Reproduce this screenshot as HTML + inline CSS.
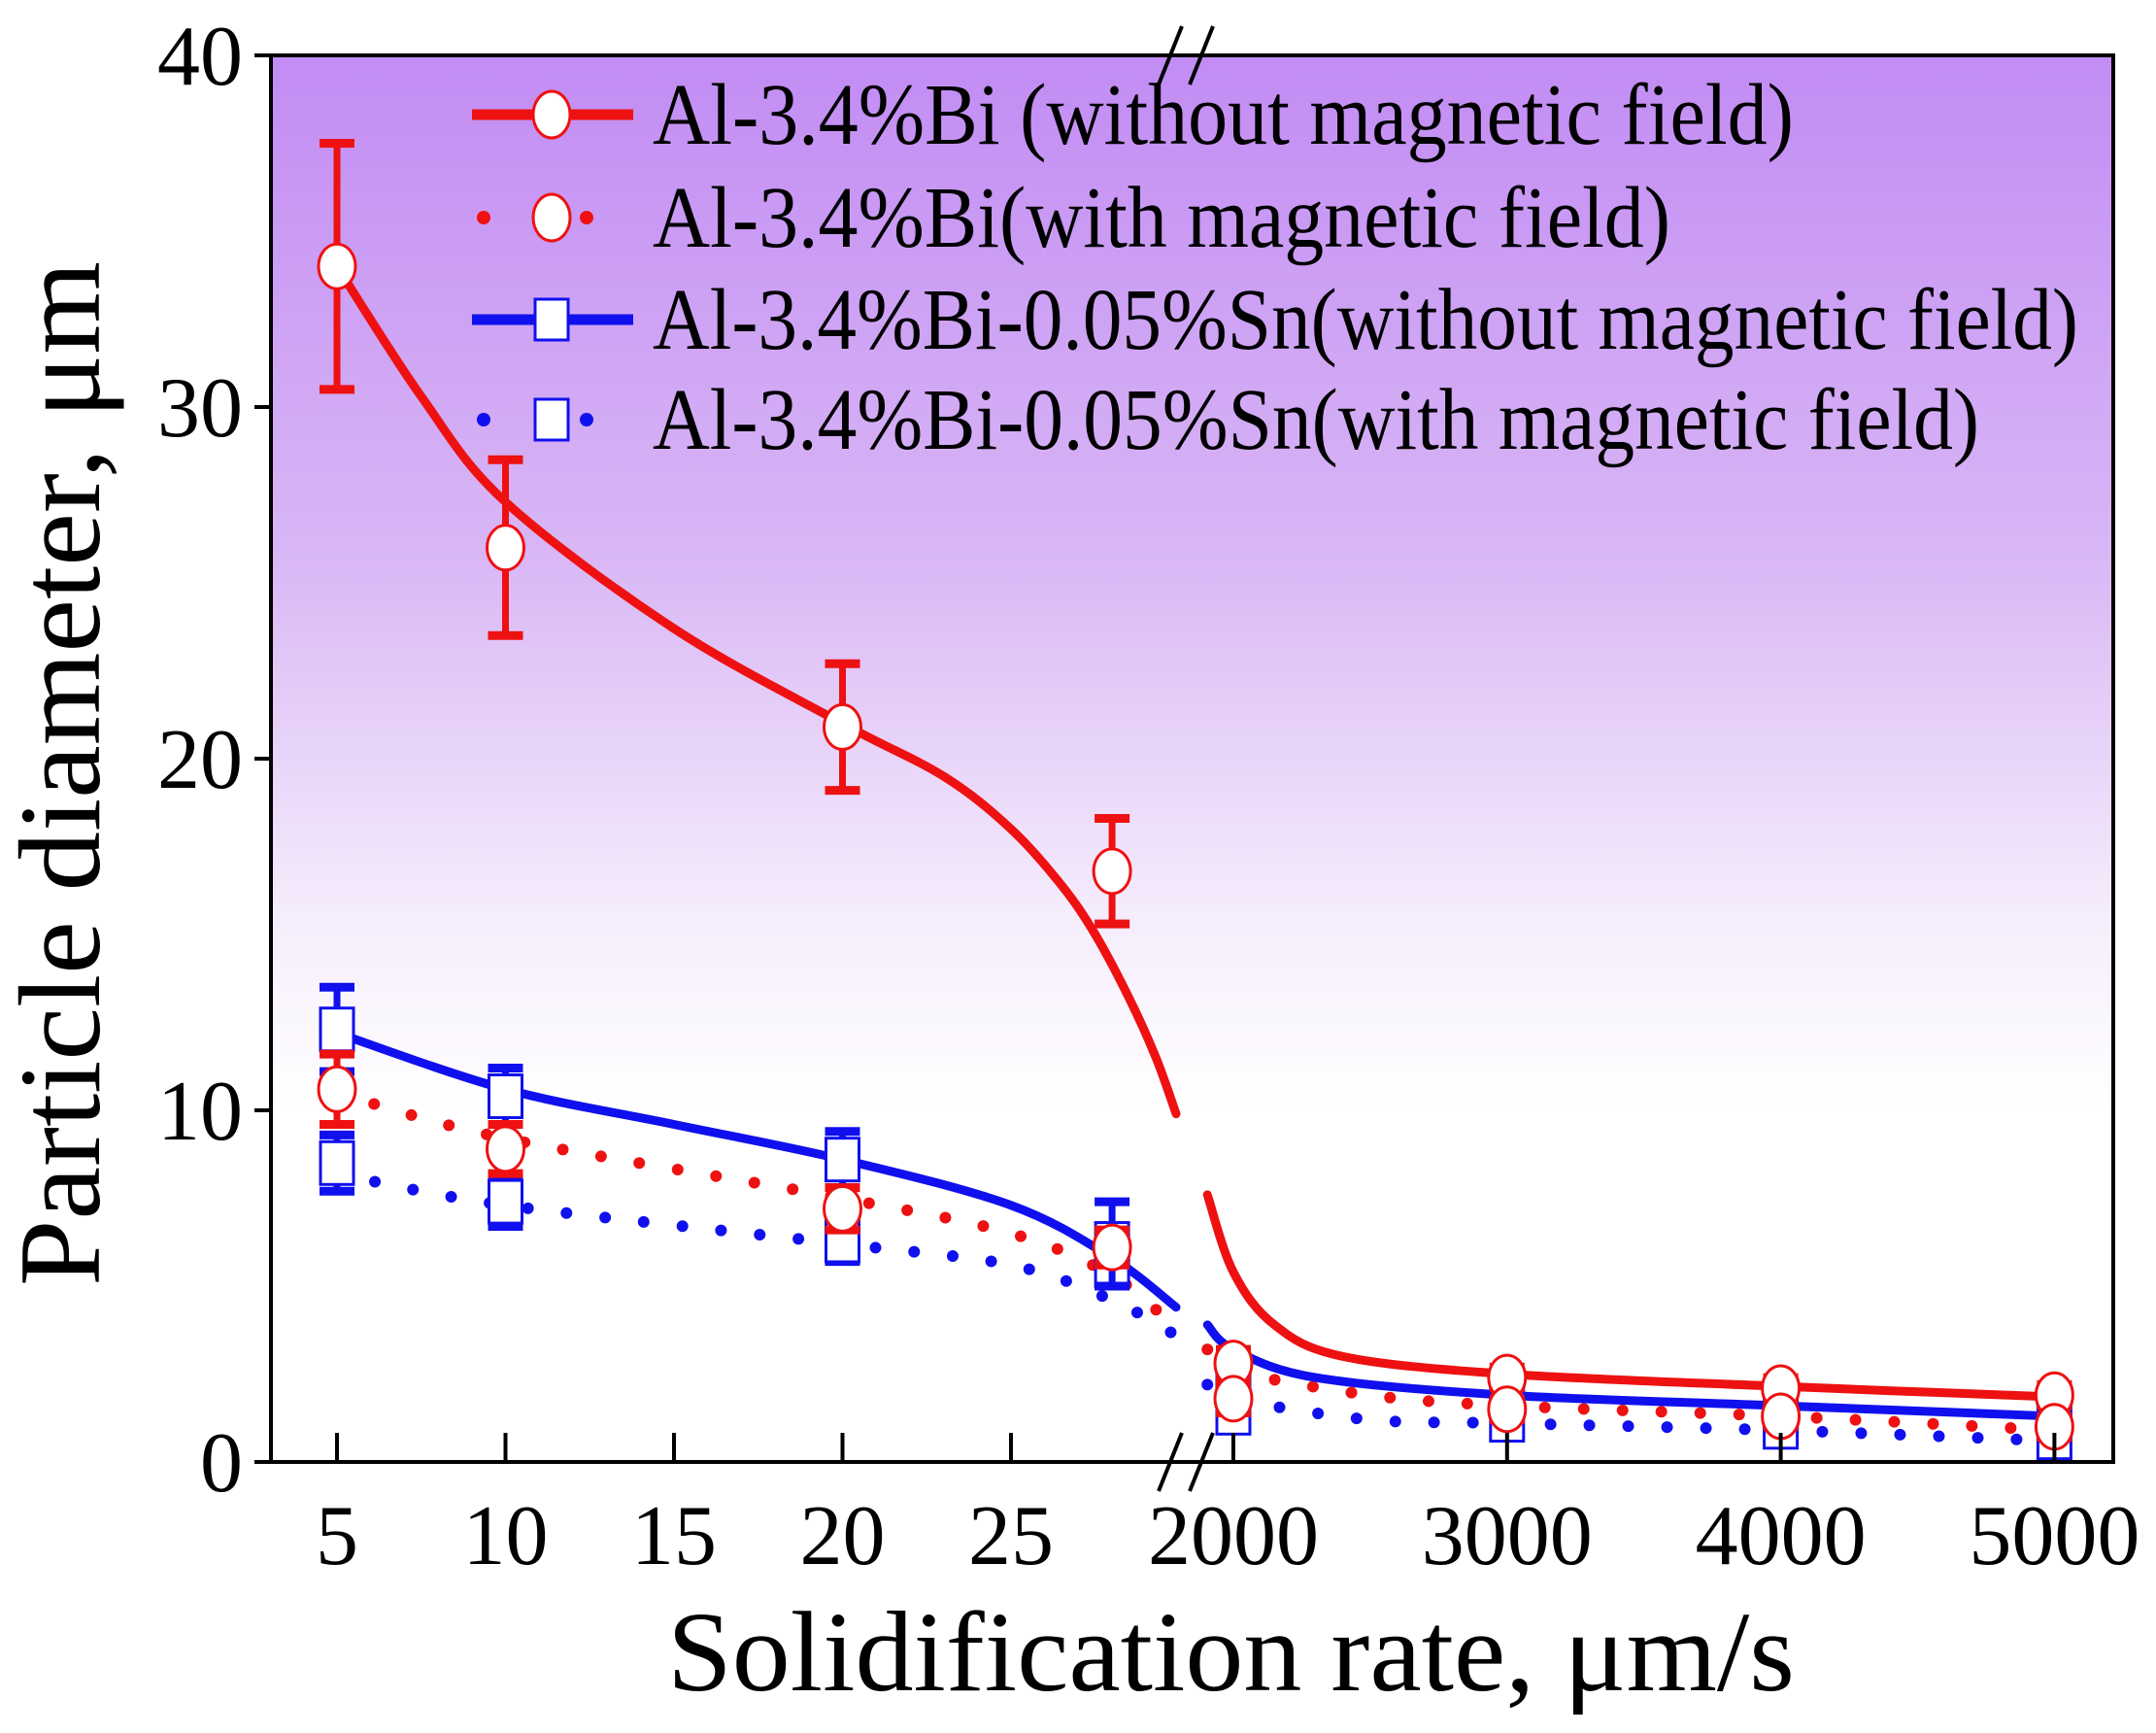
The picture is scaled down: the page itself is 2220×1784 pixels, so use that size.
<!DOCTYPE html>
<html><head><meta charset="utf-8"><style>
html,body{margin:0;padding:0;background:#fff;}
svg{display:block;font-family:"Liberation Serif",serif;}
</style></head><body>
<svg id="chart" width="2220" height="1784" viewBox="0 0 2220 1784" xmlns="http://www.w3.org/2000/svg">
<defs>
<linearGradient id="bg" x1="0" y1="0" x2="0" y2="1">
<stop offset="0" stop-color="#c28cf4"/>
<stop offset="0.35" stop-color="#d8b6f5"/>
<stop offset="0.62" stop-color="#f6eefc"/>
<stop offset="0.75" stop-color="#ffffff"/>
<stop offset="1" stop-color="#ffffff"/>
</linearGradient>
</defs>
<rect x="279" y="57" width="1897" height="1448" fill="url(#bg)"/>
<g id="marks"></g>
<rect x="279" y="57" width="1897" height="1448" fill="none" stroke="#000" stroke-width="4"/>
<g id="axes"></g>
<g id="legend" font-size="90"></g>
<text x="687" y="1740" font-size="118" textLength="1161" lengthAdjust="spacingAndGlyphs">Solidification rate,  μm/s</text>
<text transform="translate(102,1324) rotate(-90)" font-size="120" textLength="1055" lengthAdjust="spacingAndGlyphs">Particle diameter,  μm</text>
</svg>
<script>
// ---- data ----
const leftCats = [5, 10, 20, 28];
const rightCats = [2000, 3000, 4000, 5000];
const redSolidL = [34.0, 26.0, 20.9, 16.8];
const redSolidR = [2.8, 2.4, 2.1, 1.9];
const redSolidErrL = [3.5, 2.5, 1.8, 1.5];
const redDotL = [10.6, 8.9, 7.2, 6.1];
const redDotR = [1.8, 1.5, 1.3, 1.0];
const redDotErrL = [1.0, 0.7, 0.6, 0.5];
const blueSolidL = [12.3, 10.4, 8.6, 6.2];
const blueSolidR = [2.2, 1.9, 1.5, 1.3];
const blueSolidErrL = [1.2, 0.8, 0.8, 1.2];
const blueDotL = [8.5, 7.4, 6.3, 5.6];
const blueDotR = [1.4, 1.2, 1.0, 0.7];
const blueDotErrL = [0.8, 0.7, 0.6, 0.6];
const errR = [0.4, 0.3, 0.3, 0.3];
// fitted curves
const redFitLx = [5, 7.5, 10, 15, 20, 23, 25, 26.5, 27.5, 28.5, 29.3, 29.9];
const redFitLy = [34, 30.3, 27.3, 23.7, 21, 19.5, 18.0, 16.4, 15.0, 13.2, 11.5, 9.9];
const redFitRx = [1905, 2000, 2150, 2400, 3000, 4000, 5000];
const redFitRy = [7.6, 5.4, 3.9, 3.0, 2.5, 2.15, 1.85];
const blueFitLx = [5, 10, 15, 20, 25, 28, 29.9];
const blueFitLy = [12.2, 10.6, 9.6, 8.6, 7.3, 5.8, 4.4];
const blueFitRx = [1905, 2000, 2300, 3000, 4000, 5000];
const blueFitRy = [3.9, 3.2, 2.4, 1.9, 1.6, 1.3];
const redDotFitLx = [5, 10, 20, 25, 28, 29.9];
const redDotFitLy = [10.5, 9.2, 7.5, 6.5, 5.3, 3.8];
const redDotFitRx = [1905, 2000, 2500, 3000, 4000, 5000];
const redDotFitRy = [3.2, 2.6, 1.9, 1.6, 1.3, 0.9];
const blueDotFitLx = [5, 10, 20, 25, 28, 29.9];
const blueDotFitLy = [8.2, 7.3, 6.2, 5.6, 4.6, 3.6];
const blueDotFitRx = [1905, 2000, 2500, 3000, 4000, 5000];
const blueDotFitRy = [2.2, 1.8, 1.2, 1.1, 0.9, 0.6];
const yTicks = [0, 10, 20, 30, 40];
const xTicksL = [5, 10, 15, 20, 25];
const xTicksR = [2000, 3000, 4000, 5000];
const legendLabels = ["Al-3.4%Bi (without magnetic field)", "Al-3.4%Bi(with magnetic field)", "Al-3.4%Bi-0.05%Sn(without magnetic field)", "Al-3.4%Bi-0.05%Sn(with magnetic field)"];

// ---- axes ----
const xL = v => 347 + (v - 5) * 34.7;
const xR = v => 1270 + (v - 2000) * 0.2818;
const y = v => 1505 - v * 36.2;
const NS = "http://www.w3.org/2000/svg";
function mk(tag, attrs, parent) {
  const e = document.createElementNS(NS, tag);
  for (const k in attrs) e.setAttribute(k, attrs[k]);
  parent.appendChild(e);
  return e;
}
const marks = document.getElementById('marks');
const axes = document.getElementById('axes');

function smooth(pts) {
  let d = `M${pts[0][0]},${pts[0][1]}`;
  for (let i = 0; i < pts.length - 1; i++) {
    const p0 = pts[i - 1] || pts[i], p1 = pts[i], p2 = pts[i + 1], p3 = pts[i + 2] || p2;
    const c1 = [p1[0] + (p2[0] - p0[0]) / 6, p1[1] + (p2[1] - p0[1]) / 6];
    const c2 = [p2[0] - (p3[0] - p1[0]) / 6, p2[1] - (p3[1] - p1[1]) / 6];
    d += ` C${c1[0]},${c1[1]} ${c2[0]},${c2[1]} ${p2[0]},${p2[1]}`;
  }
  return d;
}
function curve(xs, ys, xf, color, dotted, name) {
  const p = mk('path', {d: smooth(xs.map((v, i) => [xf(v), y(ys[i])])), fill: 'none', stroke: color,
    'stroke-width': dotted ? 12 : 9, 'stroke-linecap': 'round', 'stroke-dasharray': dotted ? '0 40' : 'none'}, marks);
  
  
}
function points(cats, vals, errs, xf, color, shape, name) {
  cats.forEach((c, i) => {
    const cx = xf(c), cy = y(vals[i]), e = errs[i] * 36.2;
    const g = mk('g', {}, marks);
    
    
    mk('line', {x1: cx, x2: cx, y1: cy - e, y2: cy + e, stroke: color, 'stroke-width': 7}, g);
    mk('line', {x1: cx - 18, x2: cx + 18, y1: cy - e, y2: cy - e, stroke: color, 'stroke-width': 9}, g);
    mk('line', {x1: cx - 18, x2: cx + 18, y1: cy + e, y2: cy + e, stroke: color, 'stroke-width': 9}, g);
    if (shape === 'c') mk('ellipse', {cx, cy, rx: 19, ry: 23, fill: '#fff', stroke: color, 'stroke-width': 3}, g);
    else mk('rect', {x: cx - 17, y: cy - 22, width: 34, height: 44, fill: '#fff', stroke: color, 'stroke-width': 3}, g);
  });
}
const RED = '#ee1111', BLUE = '#1010ee';
curve(redDotFitLx, redDotFitLy, xL, RED, true, 'red-dotted-fit-left');
curve(redDotFitRx, redDotFitRy, xR, RED, true, 'red-dotted-fit-right');
curve(blueDotFitLx, blueDotFitLy, xL, BLUE, true, 'blue-dotted-fit-left');
curve(blueDotFitRx, blueDotFitRy, xR, BLUE, true, 'blue-dotted-fit-right');
curve(blueFitLx, blueFitLy, xL, BLUE, false, 'blue-solid-fit-left');
curve(blueFitRx, blueFitRy, xR, BLUE, false, 'blue-solid-fit-right');
curve(redFitLx, redFitLy, xL, RED, false, 'red-solid-fit-left');
curve(redFitRx, redFitRy, xR, RED, false, 'red-solid-fit-right');

points(leftCats, blueDotL, blueDotErrL, xL, BLUE, 's', 'blue-dotted');
points(rightCats, blueDotR, errR, xR, BLUE, 's', 'blue-dotted');
points(leftCats, blueSolidL, blueSolidErrL, xL, BLUE, 's', 'blue-solid');
points(rightCats, blueSolidR, errR, xR, BLUE, 's', 'blue-solid');
points(leftCats, redSolidL, redSolidErrL, xL, RED, 'c', 'red-solid');
points(rightCats, redSolidR, errR, xR, RED, 'c', 'red-solid');
points(leftCats, redDotL, redDotErrL, xL, RED, 'c', 'red-dotted');
points(rightCats, redDotR, errR, xR, RED, 'c', 'red-dotted');

// y ticks
yTicks.forEach(t => {
  const l = mk('line', {x1: 262, x2: 279, y1: y(t), y2: y(t), stroke: '#000', 'stroke-width': 4}, axes);
  
  
  const tx = mk('text', {x: 250, y: y(t) + 30, 'font-size': 88, 'text-anchor': 'end'}, axes);
  tx.textContent = t;
  
  
});
// x ticks
function xtick(v, xf) {
  const l = mk('line', {x1: xf(v), x2: xf(v), y1: 1505, y2: 1475, stroke: '#000', 'stroke-width': 4}, axes);
  
  
  const tx = mk('text', {x: xf(v), y: 1610, 'font-size': 88, 'text-anchor': 'middle'}, axes);
  tx.textContent = v;
  
  
}
xTicksL.forEach(v => xtick(v, xL));
xTicksR.forEach(v => xtick(v, xR));
// break marks
[[1205, 1505], [1237, 1505], [1205, 57], [1237, 57]].forEach((p, i) => {
  const l = mk('line', {x1: p[0] - 12, y1: p[1] + 30, x2: p[0] + 12, y2: p[1] - 30, stroke: '#000', 'stroke-width': 4}, axes);
  
  
});

// legend
const lg = document.getElementById('legend');
const legendRows = [118, 224, 329, 432];
const legendWidths = [1175, 1048, 1468, 1366];
const legendStyle = [[RED, false, 'c'], [RED, true, 'c'], [BLUE, false, 's'], [BLUE, true, 's']];
legendLabels.forEach((lab, i) => {
  const ly = legendRows[i], [col, dot, sh] = legendStyle[i];
  const g = mk('g', {}, lg);
  
  
  if (dot) {
    mk('circle', {cx: 498, cy: ly, r: 7, fill: col}, g);
    mk('circle', {cx: 604, cy: ly, r: 7, fill: col}, g);
  } else {
    mk('line', {x1: 486, x2: 652, y1: ly, y2: ly, stroke: col, 'stroke-width': 11}, g);
  }
  if (sh === 'c') mk('ellipse', {cx: 568, cy: ly, rx: 19, ry: 24, fill: '#fff', stroke: col, 'stroke-width': 3}, g);
  else mk('rect', {x: 551, y: ly - 21, width: 34, height: 42, fill: '#fff', stroke: col, 'stroke-width': 3}, g);
  const t = mk('text', {x: 672, y: ly + 30, 'font-size': 90, textLength: legendWidths[i], lengthAdjust: 'spacingAndGlyphs'}, g);
  t.textContent = lab;
});
</script>
</body></html>
